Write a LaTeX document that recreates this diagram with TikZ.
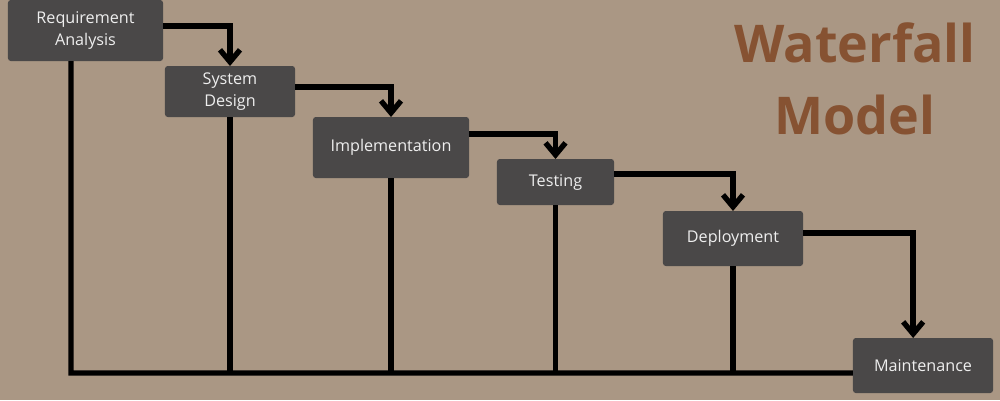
\documentclass[tikz,border=0pt]{standalone}
\usepackage{fontspec}
\setsansfont{Open Sans}
\usetikzlibrary{arrows.meta}
\definecolor{bgtan}{HTML}{AA9784}
\definecolor{boxgrey}{HTML}{4A4848}
\definecolor{boxtext}{HTML}{EEEEEE}
\definecolor{titlebrown}{HTML}{865232}

\begin{document}
\begin{tikzpicture}[
  x=0.025cm, y=-0.025cm,
  font=\sffamily,
  phase/.style={rectangle, rounded corners=2pt, fill=boxgrey, text=boxtext, align=center, inner sep=0pt, outer sep=0pt, font=\sffamily\fontsize{11.5}{15.6}\selectfont},
  bigtitle/.style={align=center, text=titlebrown, font=\sffamily\bfseries\fontsize{37}{51}\selectfont},
  arrow/.style={-{Straight Barb[length=3mm, width=5mm]}, line width=3.8pt, draw=black},
  link/.style={line width=3.8pt, draw=black}
]

\fill[bgtan] (0,0) rectangle (1000,400);

\node[bigtitle] (title) at (855,79) {Waterfall\\Model};

\node[phase, minimum width=3.875cm, minimum height=1.525cm] (req) at (85.5,30.5) {Requirement\\Analysis};
\node[phase, minimum width=3.25cm, minimum height=1.275cm] (design) at (230,91.5) {System\\Design};
\node[phase, minimum width=3.9cm, minimum height=1.525cm] (impl) at (391,147.5) {Implementation};
\node[phase, minimum width=2.925cm, minimum height=1.15cm] (test) at (555.5,182) {Testing};
\node[phase, minimum width=3.5cm, minimum height=1.375cm] (deploy) at (733,238.5) {Deployment};
\node[phase, minimum width=3.5cm, minimum height=1.375cm] (maint) at (923,365.5) {Maintenance};

% cascade
\draw[arrow] ([yshift=3.2pt]req.east) -| (design.north);
\draw[arrow] ([yshift=3.2pt]design.east) -| (impl.north);
\draw[arrow] ([yshift=9.6pt]impl.east) -| (test.north);
\draw[arrow] ([yshift=5.7pt]test.east) -| (deploy.north);
\draw[arrow] ([yshift=3.9pt]deploy.east) -| ([xshift=-7pt]maint.north);

% feedback line
\coordinate (base) at (71,373);
\draw[link] ([xshift=-10.3pt]req.south) -- (base) -- (base -| maint.west);
\foreach \n in {design, impl, test, deploy}
  \draw[link] (\n.south) -- (\n.south |- base);

\end{tikzpicture}
\end{document}
